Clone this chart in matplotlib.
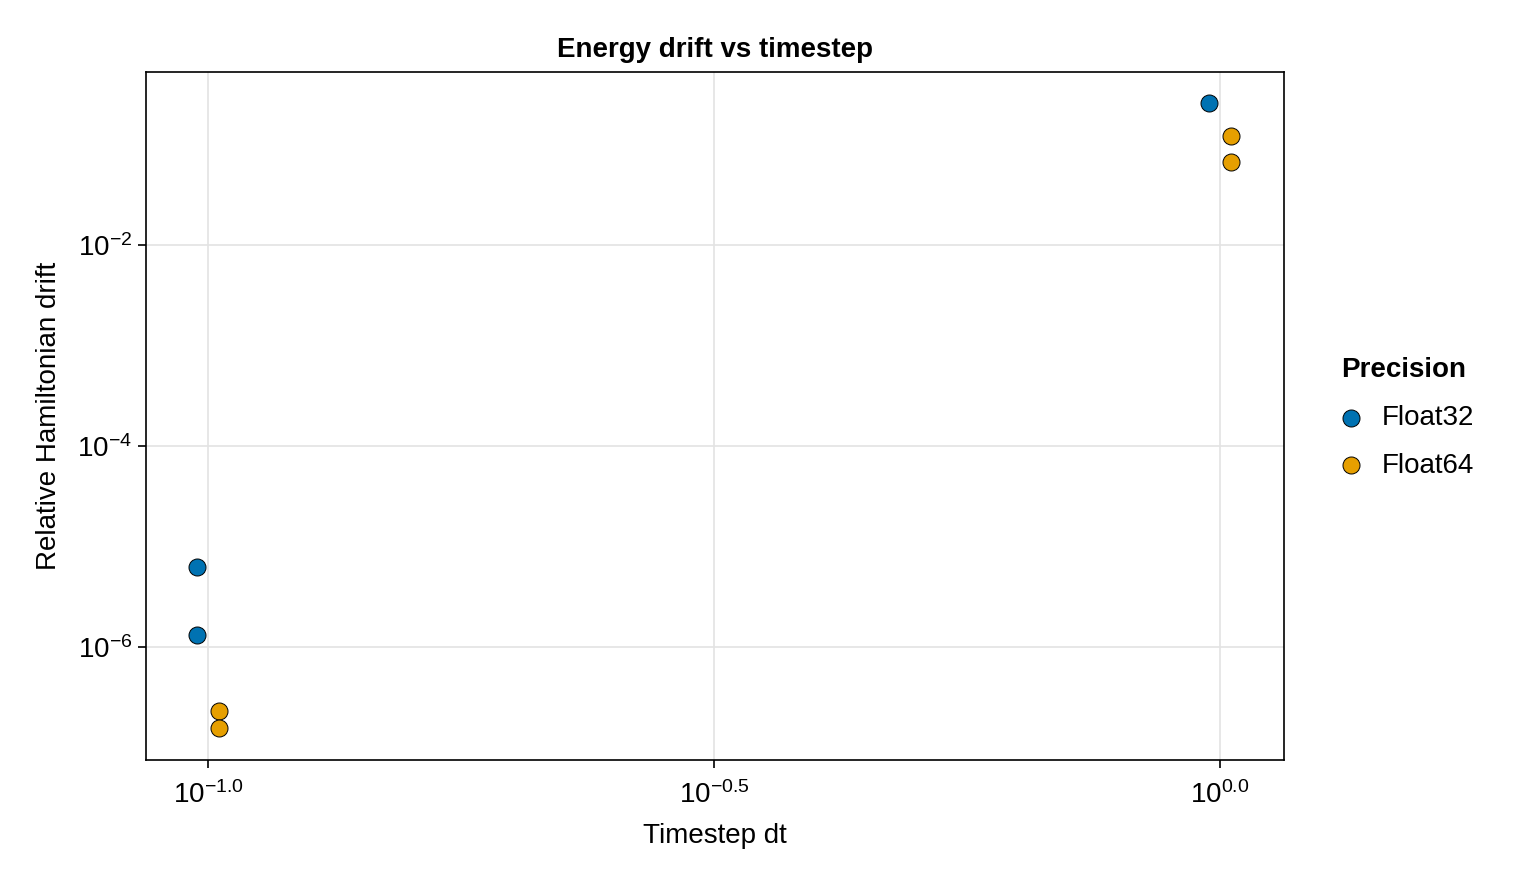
import matplotlib
matplotlib.use("Agg")
import matplotlib.pyplot as plt
import numpy as np
from matplotlib.ticker import FixedLocator, FixedFormatter, NullLocator

plt.rcParams['font.family'] = ['Liberation Sans', 'DejaVu Sans']
plt.rcParams['mathtext.fontset'] = 'custom'
plt.rcParams['mathtext.rm'] = 'Liberation Sans'
plt.rcParams['mathtext.it'] = 'Liberation Sans:italic'
plt.rcParams['mathtext.bf'] = 'Liberation Sans:bold'

# Data
precisions = ["Float32", "Float64"]
colors = ["#0072B2", "#E69F00"]
f32_dt = [1.0, 0.1, 0.1]
f32_drift = [0.259, 6.25e-6, 1.31e-6]
f64_dt = [1.0, 1.0, 0.1, 0.1]
f64_drift = [0.122, 0.067, 2.31e-7, 1.56e-7]
dodge = [0.975, 1.025]

xticks = [10**-1.0, 10**-0.5, 10**0.0]
xticklabels = [r"$10^{-1.0}$", r"$10^{-0.5}$", r"$10^{0.0}$"]
yticks = [1e-6, 1e-4, 1e-2]
yticklabels = [r"$10^{-6}$", r"$10^{-4}$", r"$10^{-2}$"]

fig = plt.figure(figsize=(15.2, 8.8), dpi=100)
ax = fig.add_axes([146/1520, 1-760/880, (1284-146)/1520, (760-72)/880])

series = [(f32_dt, f32_drift), (f64_dt, f64_drift)]
handles = []
for (dt, dr), name, c, d in zip(series, precisions, colors, dodge):
    h = ax.scatter(np.array(dt) * d, dr, s=150, color=c, edgecolor='black',
                   linewidth=0.7, zorder=3, label=name)
    handles.append(h)

ax.set_xscale('log')
ax.set_yscale('log')
ax.set_xlim(10**-1.0613, 10**0.0632)
ax.set_ylim(10**-7.124, 10**-0.279)

ax.xaxis.set_major_locator(FixedLocator(xticks))
ax.xaxis.set_major_formatter(FixedFormatter(xticklabels))
ax.xaxis.set_minor_locator(NullLocator())
ax.yaxis.set_major_locator(FixedLocator(yticks))
ax.yaxis.set_major_formatter(FixedFormatter(yticklabels))
ax.yaxis.set_minor_locator(NullLocator())

ax.set_axisbelow(True)
for sp in ax.spines.values():
    sp.set_linewidth(1.2)
ax.tick_params(axis='both', direction='out', length=6, width=1.2, labelsize=20, pad=4)
ax.tick_params(axis='x', pad=9)
ax.grid(True, which='major', color='#e3e3e3', linewidth=1.2)

ax.set_title("Energy drift vs timestep", fontsize=20, fontweight='bold', pad=11)
ax.set_xlabel("Timestep dt", fontsize=20, labelpad=10)
ax.set_ylabel("Relative Hamiltonian drift", fontsize=20, labelpad=11)

leg = fig.legend(handles=handles, labels=precisions, title="Precision",
                 loc='center left', bbox_to_anchor=(1341/1520, 1-418/880),
                 frameon=False, fontsize=20, title_fontproperties={'weight': 'bold', 'size': 20},
                 handlelength=0.75, handletextpad=0.72, labelspacing=0.78, borderaxespad=0,
                 borderpad=0, alignment='left')

fig.savefig("out.png", dpi=100)
